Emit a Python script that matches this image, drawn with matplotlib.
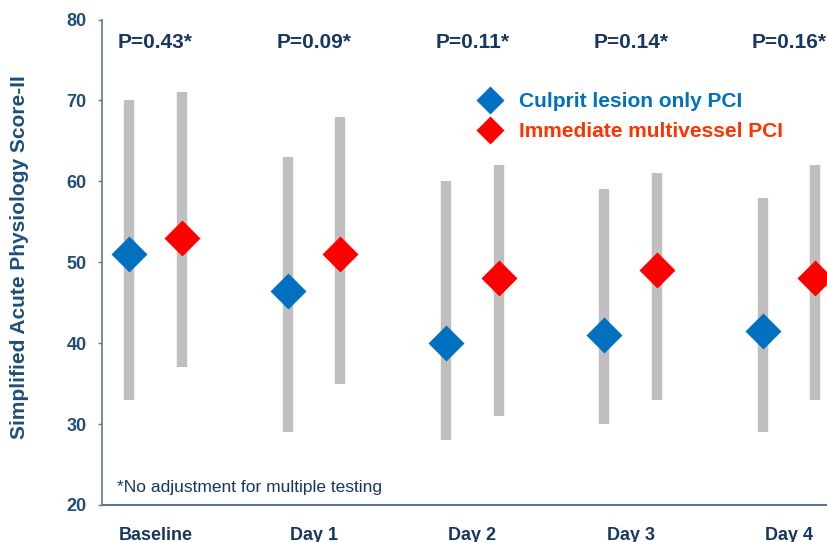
import matplotlib
matplotlib.use('Agg')
import matplotlib.pyplot as plt
from matplotlib.lines import Line2D

# SAPS-II by day, median with range, for the two PCI strategies
days = ['Baseline', 'Day 1', 'Day 2', 'Day 3', 'Day 4']
p_values = ['P=0.43*', 'P=0.09*', 'P=0.11*', 'P=0.14*', 'P=0.16*']

culprit_median = [51, 46.5, 40, 41, 41.5]
culprit_low = [33, 29, 28, 30, 29]
culprit_high = [70, 63, 60, 59, 58]

multi_median = [53, 51, 48, 49, 48]
multi_low = [37, 35, 31, 33, 33]
multi_high = [71, 68, 62, 61, 62]

BLUE = '#0070C0'
RED = '#FF0000'
RED_TEXT = '#FF3300'
GREY = '#BFBFBF'
NAVY = '#17375E'
AXIS_BLUE = '#1F4E79'
SPINE = '#5B7A92'

plt.rcParams['font.family'] = ['Liberation Sans', 'DejaVu Sans']

fig = plt.figure(figsize=(8.27, 5.42), dpi=100)
ax = fig.add_axes([0.1233, 0.0683, 0.8767, 0.8957])

offset = 0.166
x = list(range(len(days)))
xb = [i - offset for i in x]
xr = [i + offset for i in x]

# range bars
ax.vlines(xb, culprit_low, culprit_high, color=GREY, lw=7.5, zorder=1)
ax.vlines(xr, multi_low, multi_high, color=GREY, lw=7.5, zorder=1)

# medians
ax.plot(xb, culprit_median, 'D', ms=18, color=BLUE, mec='none', zorder=3)
ax.plot(xr, multi_median, 'D', ms=18, color=RED, mec='none', zorder=3)

# p-values above each day
for i, p in enumerate(p_values):
    ax.text(i, 77.13, p, ha='center', va='center', fontsize=15,
            fontweight='bold', color=NAVY)

ax.text(-0.245, 22.1, '*No adjustment for multiple testing', ha='left',
        va='center', fontsize=12.5, color=NAVY)

handles = [
    Line2D([], [], ls='none', marker='D', ms=14, color=BLUE, mec='none'),
    Line2D([], [], ls='none', marker='D', ms=14, color=RED, mec='none'),
]
leg = ax.legend(handles, ['Culprit lesion only PCI', 'Immediate multivessel PCI'],
                loc='upper left', bbox_to_anchor=(0.521, 0.851), frameon=False,
                prop={'size': 15, 'weight': 'bold'}, handletextpad=0.9,
                labelspacing=0.55, handlelength=1.0, borderpad=0,
                borderaxespad=0)
for txt, c in zip(leg.get_texts(), [BLUE, RED_TEXT]):
    txt.set_color(c)

ax.set_xlim(-0.338, 4.239)
ax.set_ylim(20, 80)
ax.set_yticks(range(20, 81, 10))
ax.set_xticks(x)
ax.set_xticklabels(days)

fig.text(20 / 827, 1 - 257 / 542, 'Simplified Acute Physiology Score-II',
         rotation=90, ha='center', va='center', fontsize=15,
         fontweight='bold', color=AXIS_BLUE)

for lbl in ax.get_yticklabels():
    lbl.set_fontweight('bold')
    lbl.set_fontsize(13)
    lbl.set_color(AXIS_BLUE)
for lbl in ax.get_xticklabels():
    lbl.set_fontweight('bold')
    lbl.set_fontsize(13)
    lbl.set_color(NAVY)

ax.tick_params(axis='y', length=3, width=1, color=SPINE, pad=8)
ax.tick_params(axis='x', length=0, pad=15.5)

ax.spines['top'].set_visible(False)
ax.spines['right'].set_visible(False)
ax.spines['left'].set_color(SPINE)
ax.spines['bottom'].set_color(SPINE)
ax.spines['left'].set_linewidth(1.2)
ax.spines['bottom'].set_linewidth(1.5)

fig.savefig('out.png', dpi=100)
